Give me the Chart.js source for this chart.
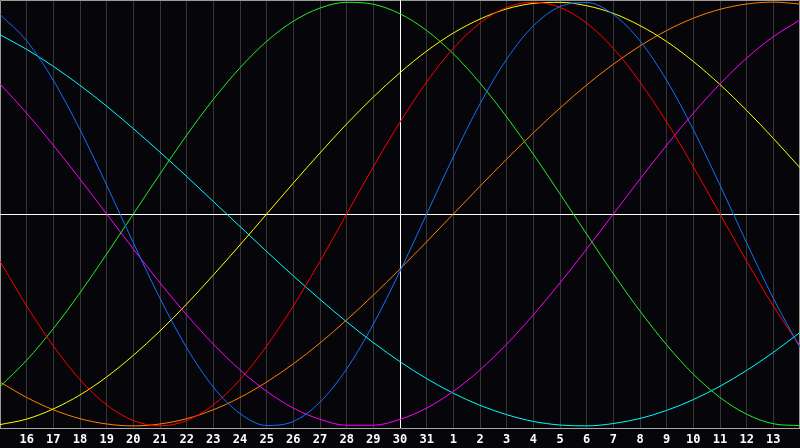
<!DOCTYPE html>
<html>
<head>
<meta charset="utf-8">
<script src="https://cdn.jsdelivr.net/npm/chart.js@4/dist/chart.umd.min.js"></script>
<style>
  html, body { margin: 0; padding: 0; background: #06050a; }
  #wrap { width: 800px; height: 448px; }
</style>
</head>
<body>
<div id="wrap"><canvas id="bioChart" width="800" height="448"></canvas></div>
<script>
// day labels under each grid line (first and last line unlabeled)
const dayLabels = ['', '16', '17', '18', '19', '20', '21', '22', '23', '24', '25', '26', '27', '28', '29', '30', '31',
    '1', '2', '3', '4', '5', '6', '7', '8', '9', '10', '11', '12', '13', ''];

// cycle values, one per day
const physical = [0.942, 0.817, 0.631, 0.398, 0.136, -0.136, -0.398, -0.631, -0.817, -0.942, -0.998, -0.979, -0.888, -0.731, -0.520, -0.270,
    0, 0.270, 0.520, 0.731, 0.888, 0.979, 0.998, 0.942, 0.817, 0.631, 0.398, 0.136, -0.136, -0.398, -0.631];
const emotional = [-0.223, -0.434, -0.623, -0.782, -0.901, -0.975, -1.000, -0.975, -0.901, -0.782, -0.623, -0.434, -0.223, 0, 0.223, 0.434,
    0.623, 0.782, 0.901, 0.975, 1.000, 0.975, 0.901, 0.782, 0.623, 0.434, 0.223, 0, -0.223, -0.434, -0.623];
const intellectual = [-0.815, -0.690, -0.541, -0.372, -0.189, 0, 0.189, 0.372, 0.541, 0.690, 0.815, 0.910, 0.972, 0.999, 0.990, 0.945,
    0.866, 0.756, 0.618, 0.458, 0.282, 0.095, -0.095, -0.282, -0.458, -0.618, -0.756, -0.866, -0.945, -0.990, -0.999];
const intuitive = [0.614, 0.476, 0.325, 0.165, 0, -0.165, -0.325, -0.476, -0.614, -0.736, -0.837, -0.916, -0.969, -0.997, -0.997, -0.969,
    -0.916, -0.837, -0.736, -0.614, -0.476, -0.325, -0.165, 0, 0.165, 0.325, 0.476, 0.614, 0.736, 0.837, 0.916];
const aesthetic = [-0.994, -0.968, -0.920, -0.854, -0.769, -0.667, -0.552, -0.425, -0.288, -0.146, 0, 0.146, 0.288, 0.425, 0.552, 0.667,
    0.769, 0.854, 0.920, 0.968, 0.994, 0.999, 0.983, 0.947, 0.889, 0.814, 0.720, 0.611, 0.489, 0.357, 0.218];
const awareness = [-0.793, -0.866, -0.924, -0.966, -0.991, -1.000, -0.991, -0.966, -0.924, -0.866, -0.793, -0.707, -0.609, -0.500, -0.383, -0.259,
    -0.131, 0, 0.131, 0.259, 0.383, 0.500, 0.609, 0.707, 0.793, 0.866, 0.924, 0.966, 0.991, 1.000, 0.991];
const spiritual = [0.846, 0.777, 0.697, 0.607, 0.509, 0.403, 0.292, 0.177, 0.059, -0.059, -0.177, -0.292, -0.403, -0.509, -0.607, -0.697,
    -0.777, -0.846, -0.903, -0.947, -0.979, -0.996, -1.000, -0.989, -0.965, -0.927, -0.876, -0.813, -0.738, -0.653, -0.559];

const toPoints = arr => arr.map((v, i) => ({ x: i, y: v }));

const line = (label, values, color) => ({
    label: label,
    data: toPoints(values),
    borderColor: color,
    borderWidth: 1,
    pointRadius: 0,
    cubicInterpolationMode: 'monotone',
    fill: false
});

// white cross through the middle + frame, drawn under the curves
const crossPlugin = {
    id: 'cross',
    beforeDatasetsDraw(chart) {
        const { ctx, chartArea: a, scales } = chart;
        ctx.save();
        ctx.lineWidth = 1;
        ctx.strokeStyle = '#9a9a9a';
        ctx.beginPath();
        ctx.moveTo(0.5, a.bottom);
        ctx.lineTo(0.5, 0.5);
        ctx.lineTo(799.5, 0.5);
        ctx.lineTo(799.5, a.bottom);
        ctx.stroke();
        ctx.strokeStyle = '#ffffff';
        const y0 = Math.round(scales.y.getPixelForValue(0)) + 0.5;
        const x0 = Math.round(scales.x.getPixelForValue(15)) + 0.5;
        ctx.beginPath();
        ctx.moveTo(a.left, y0);
        ctx.lineTo(a.right, y0);
        ctx.moveTo(x0, a.top);
        ctx.lineTo(x0, a.bottom);
        ctx.stroke();
        ctx.restore();
    }
};

const bgPlugin = {
    id: 'bg',
    beforeDraw(chart) {
        const ctx = chart.ctx;
        ctx.save();
        ctx.fillStyle = '#06050a';
        ctx.fillRect(0, 0, chart.width, chart.height);
        ctx.restore();
    }
};

new Chart(document.getElementById('bioChart'), {
    type: 'line',
    data: {
        datasets: [
            line('Physical', physical, '#1270ff'),
            line('Emotional', emotional, '#ff0000'),
            line('Intellectual', intellectual, '#22f022'),
            line('Intuitive', intuitive, '#ff00ff'),
            line('Aesthetic', aesthetic, '#ffff00'),
            line('Awareness', awareness, '#ff8000'),
            line('Spiritual', spiritual, '#00ffff')
        ]
    },
    options: {
        responsive: false,
        animation: false,
        layout: { padding: 0, autoPadding: false },
        plugins: { legend: { display: false }, tooltip: { enabled: false } },
        scales: {
            x: {
                type: 'linear',
                min: 0,
                max: 30,
                afterFit: scale => {
                    scale.height = 20;
                    scale.paddingLeft = 0;
                    scale.paddingRight = 0;
                },
                grid: {
                    color: c => (c.tick && (c.tick.value === 0 || c.tick.value === 30 || c.tick.value === 15)) ? 'rgba(0,0,0,0)' : '#363636',
                    drawTicks: false,
                    lineWidth: 1
                },
                border: { color: '#a8a8a8', width: 1 },
                ticks: {
                    stepSize: 1,
                    autoSkip: false,
                    maxRotation: 0,
                    padding: 5,
                    color: '#ffffff',
                    font: { family: 'DejaVu Sans Mono', size: 12, weight: 'bold' },
                    callback: v => dayLabels[v]
                }
            },
            y: {
                display: false,
                min: -1.01,
                max: 1.01
            }
        }
    },
    plugins: [bgPlugin, crossPlugin]
});
</script>
</body>
</html>
